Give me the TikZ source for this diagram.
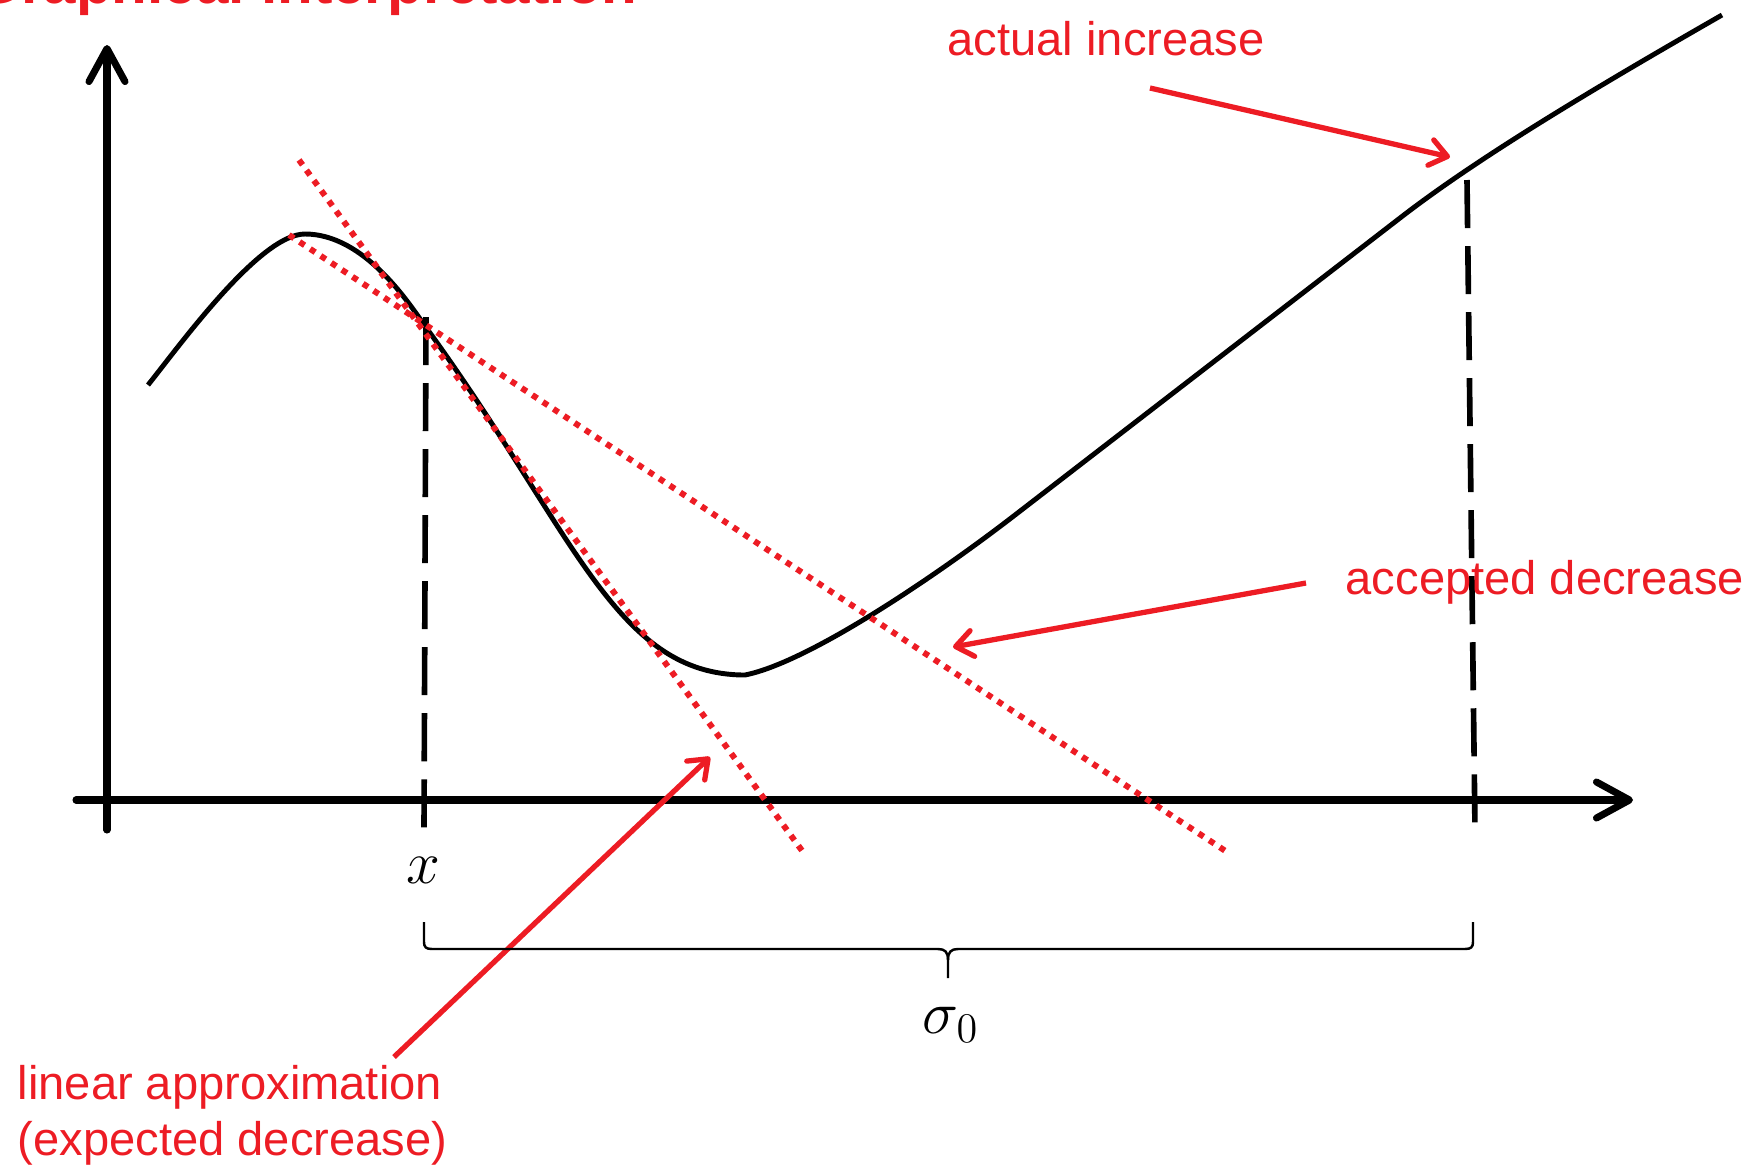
\documentclass[tikz,border=0pt]{standalone}
\usepackage{fontspec}
\setmainfont{Liberation Sans}
\usetikzlibrary{arrows.meta}
\definecolor{noteRed}{RGB}{237,28,36}

\begin{document}
\begin{tikzpicture}[x=0.01cm, y=-0.01cm,
    axis/.style={line width=2pt, line cap=round, -{Straight Barb[length=0.33cm, width=0.36cm, round]}},
    curve/.style={line width=1.4pt},
    guide/.style={line width=1.6pt, dash pattern=on 0.48cm off 0.18cm},
    approx/.style={noteRed, line width=1.7pt, dash pattern=on 1.7pt off 1.9pt},
    pointer/.style={noteRed, line width=1.5pt, -{Straight Barb[length=0.17cm, width=0.26cm, round]}},
    note/.style={noteRed, font=\fontsize{13.4}{16}\selectfont, inner sep=0pt}]
  \useasboundingbox (0,0) rectangle (1754,1166);

  \node[noteRed, font=\bfseries\fontsize{16.6}{20}\selectfont, anchor=base west, inner sep=0pt] (title) at (-25,3) {Graphical interpretation};

  % Axes
  \draw[axis] (76,800) -- (1633,800);
  \draw[axis] (107,830) -- (107,45);

  % Step markers
  \draw[guide] (426,317) -- (424,830);
  \draw[guide] (1467,180) -- (1475,830);

  % Function
  \draw[curve] (148,385) .. controls (180,345) and (260,234) .. (305,234)
    .. controls (365,234) and (410,305) .. (425,326)
    .. controls (575,532) and (615,675) .. (745,675)
    .. controls (810,662) and (940,573) .. (1015,515)
    -- (1400,218)
    .. controls (1480,156) and (1600,85) .. (1722,15);

  % Linear models
  \draw[approx] (299,160) -- (803,852);
  \draw[approx] (289,235) -- (1227,852);

  % Labels
  \node[note, anchor=base west] (actlabel) at (947,55) {actual increase};
  \node[note, anchor=base west] (acclabel) at (1345,594) {accepted decrease};
  \node[note, anchor=base west] (linlabel) at (17,1099) {linear approximation};
  \node[note, anchor=base west] (linlabel2) at (17,1155) {(expected decrease)};

  \coordinate (actTail) at (1150,88);
  \coordinate (actTip) at (1450,157);
  \coordinate (accTail) at (1306,583);
  \coordinate (accTip) at (953,647);
  \coordinate (linTail) at (394,1057);
  \coordinate (linTip) at (710,757);
  \draw[pointer] (actTail) -- (actTip);
  \draw[pointer] (accTail) -- (accTip);
  \draw[pointer] (linTail) -- (linTip);

  % Step length
  \draw[line width=0.7pt] (424,922) -- (424,942) .. controls (424,947) and (426,949) .. (432,949) -- (938,949) .. controls (945,949) and (948,952) .. (948,960) -- (948,978);
  \draw[line width=0.7pt] (948,960) .. controls (948,952) and (951,949) .. (958,949) -- (1465,949) .. controls (1471,949) and (1473,947) .. (1473,942) -- (1473,922);
  \node[font=\fontsize{18}{20}\selectfont] (xlabel) at (423,870) {$x$};
  \node[font=\fontsize{18}{20}\selectfont] (siglabel) at (951,1025) {$\sigma_0$};
\end{tikzpicture}
\end{document}
